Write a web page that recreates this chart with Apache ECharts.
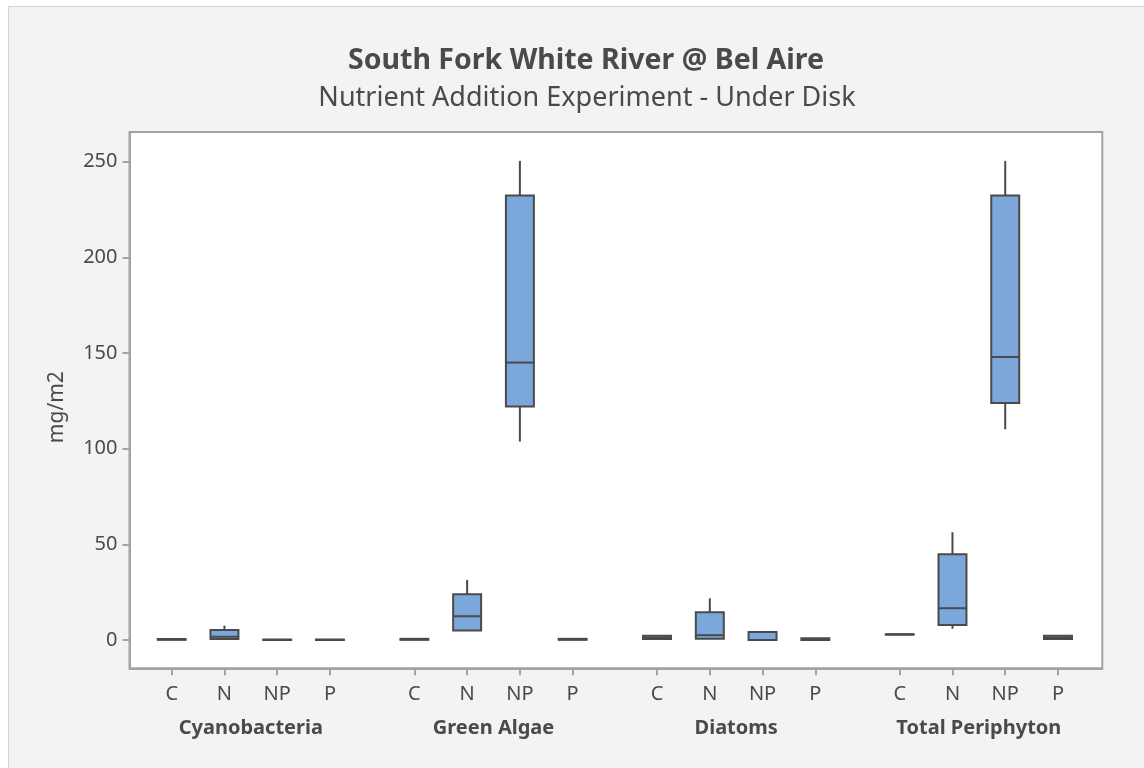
<!DOCTYPE html>
<html>
<head>
<meta charset="utf-8">
<script src="https://cdn.jsdelivr.net/npm/echarts@6/dist/echarts.min.js"></script>
<style>
  html, body { margin: 0; padding: 0; background: #ffffff; }
  #frame { position: absolute; left: 8px; top: 6px; width: 1136px; height: 762px;
           background: #f3f3f3; border-top: 1px solid #d4d4d4; border-left: 1px solid #d4d4d4; box-sizing: border-box; }
  #chart { position: absolute; left: 0; top: 0; width: 1144px; height: 768px; }
</style>
</head>
<body>
<div id="frame"></div>
<div id="chart"></div>
<script>
// ---- data (min, Q1, median, Q3, max) in mg/m2 ----
const groups = ['Cyanobacteria', 'Green Algae', 'Diatoms', 'Total Periphyton'];
const treatments = ['C', 'N', 'NP', 'P'];
const cyanobacteria = [
  [0.1, 0.1, 0.3, 0.5, 0.6],
  [0.5, 0.5, 1.7, 5.2, 7.5],
  [0.0, 0.0, 0.1, 0.2, 0.2],
  [0.0, 0.0, 0.1, 0.2, 0.2]
];
const greenAlgae = [
  [0.1, 0.1, 0.3, 0.6, 0.7],
  [4.9, 4.9, 12.4, 23.9, 31.4],
  [103.7, 122.0, 145.0, 232.3, 250.4],
  [0.1, 0.1, 0.3, 0.6, 0.7]
];
const diatoms = [
  [0.5, 0.5, 1.2, 2.2, 2.2],
  [0.7, 0.7, 2.5, 14.5, 21.8],
  [0.0, 0.0, 0.0, 4.2, 4.2],
  [0.0, 0.0, 0.3, 0.9, 0.9]
];
const totalPeriphyton = [
  [2.8, 2.8, 2.9, 3.0, 3.0],
  [5.9, 7.8, 16.6, 44.8, 56.3],
  [110.1, 123.9, 147.9, 232.3, 250.4],
  [0.5, 0.5, 1.2, 2.2, 2.2]
];
const yTicks = [0, 50, 100, 150, 200, 250];
const titleText = 'South Fork White River @ Bel Aire';
const subtitleText = 'Nutrient Addition Experiment - Under Disk';
const yName = 'mg/m2';

// ---- layout helpers ----
const groupStride = 4.6;   // slot units between group starts (4 boxes + gap)
const allGroups = [cyanobacteria, greenAlgae, diatoms, totalPeriphyton];
const boxData = [];
const tickPos = [];
const tickLabel = {};
allGroups.forEach((g, gi) => {
  g.forEach((v, ti) => {
    const x = +(gi * groupStride + ti).toFixed(2);
    boxData.push([x].concat(v));
    tickPos.push(x);
    tickLabel[x] = treatments[ti];
  });
});
const groupPos = groups.map((_, gi) => +(gi * groupStride + 1.5).toFixed(2));
const groupLabel = {};
groupPos.forEach((p, i) => { groupLabel[p] = groups[i]; });

const textColor = '#4a4a4a';
const axisColor = '#a3a3a3';
const font = '"Noto Sans", "Open Sans", sans-serif';

const chart = echarts.init(document.getElementById('chart'), null, { renderer: 'canvas' });
chart.setOption({
  backgroundColor: 'transparent',
  animation: false,
  textStyle: { fontFamily: font },
  title: [
    { text: titleText, left: 581, top: 41, textAlign: 'center',
      textStyle: { fontSize: 28.5, fontWeight: 'bold', color: textColor, fontFamily: font } },
    { text: subtitleText, left: 582, top: 79.5, textAlign: 'center',
      textStyle: { fontSize: 27, fontWeight: 'normal', color: textColor, fontFamily: font } }
  ],
  grid: { left: 129.5, right: 41.7, top: 132, bottom: 99.7, show: true,
          backgroundColor: '#ffffff', borderColor: axisColor, borderWidth: 2 },
  xAxis: [
    { type: 'value', min: -0.8, max: 17.64, position: 'bottom',
      axisLine: { show: true, onZero: false, lineStyle: { color: axisColor, width: 2 } },
      axisTick: { show: true, length: 7, customValues: tickPos, lineStyle: { color: axisColor, width: 2 } },
      axisLabel: { customValues: tickPos, margin: 16, fontSize: 20, color: textColor, fontFamily: font,
                   formatter: v => tickLabel[+v.toFixed(2)] || '' },
      splitLine: { show: false } },
    { type: 'value', min: -0.8, max: 17.64, position: 'bottom',
      axisLine: { show: false, onZero: false }, axisTick: { show: false },
      axisLabel: { customValues: groupPos, margin: 50, fontSize: 20, fontWeight: 'bold', color: textColor, fontFamily: font,
                   formatter: v => groupLabel[+v.toFixed(2)] || '' },
      splitLine: { show: false } }
  ],
  yAxis: {
    type: 'value', min: -14.8, max: 265.5,
    name: yName, nameLocation: 'middle', nameGap: 62, nameRotate: 90,
    nameTextStyle: { fontSize: 21, color: textColor, fontFamily: font, padding: [0, 14, 0, 0] },
    axisLine: { show: true, onZero: false, lineStyle: { color: axisColor, width: 2 } },
    axisTick: { show: true, length: 7, customValues: yTicks, lineStyle: { color: axisColor, width: 2 } },
    axisLabel: { customValues: yTicks, margin: 12, fontSize: 20, color: textColor, fontFamily: font },
    splitLine: { show: false }
  },
  series: [{
    type: 'custom',
    xAxisIndex: 0,
    yAxisIndex: 0,
    data: boxData,
    encode: { x: 0, y: [1, 2, 3, 4, 5] },
    renderItem: function (params, api) {
      const x = api.value(0);
      const pMin = api.coord([x, api.value(1)]);
      const pQ1 = api.coord([x, api.value(2)]);
      const pMed = api.coord([x, api.value(3)]);
      const pQ3 = api.coord([x, api.value(4)]);
      const pMax = api.coord([x, api.value(5)]);
      const w = api.size([0.53, 0])[0];
      const cx = pMed[0];
      const stroke = { stroke: '#4a4a4a', lineWidth: 2 };
      return {
        type: 'group',
        children: [
          { type: 'line', shape: { x1: cx, y1: pMax[1], x2: cx, y2: pQ3[1] }, style: stroke },
          { type: 'line', shape: { x1: cx, y1: pQ1[1], x2: cx, y2: pMin[1] }, style: stroke },
          { type: 'rect', shape: { x: cx - w / 2, y: pQ3[1], width: w, height: pQ1[1] - pQ3[1] },
            style: { fill: '#7ba7db', stroke: '#4a4a4a', lineWidth: 2 } },
          { type: 'line', shape: { x1: cx - w / 2, y1: pMed[1], x2: cx + w / 2, y2: pMed[1] }, style: stroke }
        ]
      };
    }
  }]
});
</script>
</body>
</html>
